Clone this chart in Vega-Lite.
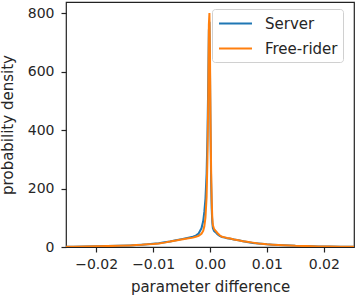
{
  "$schema": "https://vega.github.io/schema/vega-lite/v6.json",
  "width": 288,
  "height": 245,
  "autosize": {"type": "none"},
  "padding": {"left": 66, "top": 2, "right": 2, "bottom": 49},
  "background": "white",
  "config": {
    "font": "DejaVu Sans",
    "view": {"stroke": "#222", "strokeWidth": 1.2},
    "axis": {
      "domain": false,
      "grid": false,
      "tickColor": "#222",
      "tickWidth": 1.2,
      "tickSize": 5,
      "labelColor": "#262626",
      "labelFont": "DejaVu Sans",
      "labelFontSize": 14,
      "titleColor": "#262626",
      "titleFont": "DejaVu Sans",
      "titleFontSize": 15,
      "titleFontWeight": "normal"
    }
  },
  "data": {
    "values": [
      {"x": -0.0253, "y": 0.8, "s": "Server"},
      {"x": -0.024, "y": 1, "s": "Server"},
      {"x": -0.022, "y": 1.5, "s": "Server"},
      {"x": -0.020, "y": 2.2, "s": "Server"},
      {"x": -0.018, "y": 3, "s": "Server"},
      {"x": -0.016, "y": 4, "s": "Server"},
      {"x": -0.014, "y": 5.5, "s": "Server"},
      {"x": -0.013, "y": 6.5, "s": "Server"},
      {"x": -0.012, "y": 8, "s": "Server"},
      {"x": -0.011, "y": 9, "s": "Server"},
      {"x": -0.010, "y": 11, "s": "Server"},
      {"x": -0.009, "y": 13, "s": "Server"},
      {"x": -0.008, "y": 16, "s": "Server"},
      {"x": -0.007, "y": 19, "s": "Server"},
      {"x": -0.006, "y": 23, "s": "Server"},
      {"x": -0.005, "y": 27, "s": "Server"},
      {"x": -0.004, "y": 31, "s": "Server"},
      {"x": -0.003, "y": 35, "s": "Server"},
      {"x": -0.0025, "y": 39, "s": "Server"},
      {"x": -0.002, "y": 46, "s": "Server"},
      {"x": -0.0015, "y": 64, "s": "Server"},
      {"x": -0.0012, "y": 88, "s": "Server"},
      {"x": -0.0010, "y": 120, "s": "Server"},
      {"x": -0.0008, "y": 165, "s": "Server"},
      {"x": -0.0006, "y": 250, "s": "Server"},
      {"x": -0.00045, "y": 380, "s": "Server"},
      {"x": -0.0003, "y": 580, "s": "Server"},
      {"x": -0.0002, "y": 740, "s": "Server"},
      {"x": -0.0001, "y": 770, "s": "Server"},
      {"x": 0.0, "y": 600, "s": "Server"},
      {"x": 0.0001, "y": 380, "s": "Server"},
      {"x": 0.0002, "y": 220, "s": "Server"},
      {"x": 0.0003, "y": 130, "s": "Server"},
      {"x": 0.0004, "y": 85, "s": "Server"},
      {"x": 0.0005, "y": 65, "s": "Server"},
      {"x": 0.0007, "y": 55, "s": "Server"},
      {"x": 0.0010, "y": 50, "s": "Server"},
      {"x": 0.0013, "y": 44, "s": "Server"},
      {"x": 0.0017, "y": 38, "s": "Server"},
      {"x": 0.0021, "y": 34, "s": "Server"},
      {"x": 0.0026, "y": 32, "s": "Server"},
      {"x": 0.0030, "y": 30, "s": "Server"},
      {"x": 0.0036, "y": 28, "s": "Server"},
      {"x": 0.0042, "y": 26, "s": "Server"},
      {"x": 0.0050, "y": 23, "s": "Server"},
      {"x": 0.0058, "y": 20, "s": "Server"},
      {"x": 0.0065, "y": 17, "s": "Server"},
      {"x": 0.0075, "y": 14, "s": "Server"},
      {"x": 0.0085, "y": 12, "s": "Server"},
      {"x": 0.0100, "y": 9, "s": "Server"},
      {"x": 0.0110, "y": 8, "s": "Server"},
      {"x": 0.0120, "y": 7, "s": "Server"},
      {"x": 0.0130, "y": 6, "s": "Server"},
      {"x": 0.0150, "y": 4, "s": "Server"},
      {"x": 0.0170, "y": 3, "s": "Server"},
      {"x": 0.0190, "y": 2, "s": "Server"},
      {"x": 0.0210, "y": 1.5, "s": "Server"},
      {"x": 0.0230, "y": 1, "s": "Server"},
      {"x": 0.0253, "y": 0.7, "s": "Server"},
      {"x": -0.0253, "y": 0.8, "s": "Free-rider"},
      {"x": -0.024, "y": 1, "s": "Free-rider"},
      {"x": -0.022, "y": 1.5, "s": "Free-rider"},
      {"x": -0.020, "y": 2.5, "s": "Free-rider"},
      {"x": -0.018, "y": 3, "s": "Free-rider"},
      {"x": -0.016, "y": 4, "s": "Free-rider"},
      {"x": -0.014, "y": 5.5, "s": "Free-rider"},
      {"x": -0.013, "y": 6.5, "s": "Free-rider"},
      {"x": -0.012, "y": 7.5, "s": "Free-rider"},
      {"x": -0.011, "y": 9, "s": "Free-rider"},
      {"x": -0.010, "y": 10, "s": "Free-rider"},
      {"x": -0.009, "y": 12, "s": "Free-rider"},
      {"x": -0.008, "y": 15, "s": "Free-rider"},
      {"x": -0.007, "y": 19, "s": "Free-rider"},
      {"x": -0.006, "y": 22, "s": "Free-rider"},
      {"x": -0.005, "y": 26, "s": "Free-rider"},
      {"x": -0.004, "y": 29, "s": "Free-rider"},
      {"x": -0.003, "y": 32, "s": "Free-rider"},
      {"x": -0.0025, "y": 35, "s": "Free-rider"},
      {"x": -0.002, "y": 38, "s": "Free-rider"},
      {"x": -0.0015, "y": 45, "s": "Free-rider"},
      {"x": -0.0012, "y": 55, "s": "Free-rider"},
      {"x": -0.0010, "y": 70, "s": "Free-rider"},
      {"x": -0.0008, "y": 100, "s": "Free-rider"},
      {"x": -0.0006, "y": 170, "s": "Free-rider"},
      {"x": -0.00045, "y": 300, "s": "Free-rider"},
      {"x": -0.0003, "y": 520, "s": "Free-rider"},
      {"x": -0.0002, "y": 760, "s": "Free-rider"},
      {"x": -0.0001, "y": 800, "s": "Free-rider"},
      {"x": 0.0, "y": 650, "s": "Free-rider"},
      {"x": 0.0001, "y": 420, "s": "Free-rider"},
      {"x": 0.0002, "y": 260, "s": "Free-rider"},
      {"x": 0.0003, "y": 160, "s": "Free-rider"},
      {"x": 0.0004, "y": 100, "s": "Free-rider"},
      {"x": 0.0005, "y": 75, "s": "Free-rider"},
      {"x": 0.0007, "y": 62, "s": "Free-rider"},
      {"x": 0.0010, "y": 55, "s": "Free-rider"},
      {"x": 0.0013, "y": 48, "s": "Free-rider"},
      {"x": 0.0017, "y": 40, "s": "Free-rider"},
      {"x": 0.0021, "y": 35, "s": "Free-rider"},
      {"x": 0.0026, "y": 33, "s": "Free-rider"},
      {"x": 0.0030, "y": 31, "s": "Free-rider"},
      {"x": 0.0036, "y": 29, "s": "Free-rider"},
      {"x": 0.0042, "y": 26, "s": "Free-rider"},
      {"x": 0.0050, "y": 23, "s": "Free-rider"},
      {"x": 0.0058, "y": 20, "s": "Free-rider"},
      {"x": 0.0065, "y": 18, "s": "Free-rider"},
      {"x": 0.0075, "y": 15, "s": "Free-rider"},
      {"x": 0.0085, "y": 12, "s": "Free-rider"},
      {"x": 0.0100, "y": 9, "s": "Free-rider"},
      {"x": 0.0110, "y": 8, "s": "Free-rider"},
      {"x": 0.0120, "y": 7, "s": "Free-rider"},
      {"x": 0.0130, "y": 6, "s": "Free-rider"},
      {"x": 0.0150, "y": 4, "s": "Free-rider"},
      {"x": 0.0170, "y": 3, "s": "Free-rider"},
      {"x": 0.0190, "y": 2, "s": "Free-rider"},
      {"x": 0.0210, "y": 1.5, "s": "Free-rider"},
      {"x": 0.0230, "y": 1, "s": "Free-rider"},
      {"x": 0.0253, "y": 0.7, "s": "Free-rider"}
    ]
  },
  "mark": {"type": "line", "strokeWidth": 2, "clip": true},
  "encoding": {
    "x": {
      "field": "x",
      "type": "quantitative",
      "scale": {"domain": [-0.0253, 0.0253], "nice": false, "zero": false},
      "axis": {
        "title": "parameter difference",
        "values": [-0.02, -0.01, 0, 0.01, 0.02],
        "labelExpr": "replace(format(datum.value, '.2f'), '-', '−')",
        "labelPadding": 5,
        "titleBaseline": "alphabetic",
        "titleY": 44.5
      }
    },
    "y": {
      "field": "y",
      "type": "quantitative",
      "scale": {"domain": [0, 838], "nice": false},
      "axis": {
        "title": "probability density",
        "values": [0, 200, 400, 600, 800],
        "labelPadding": 7,
        "titleBaseline": "alphabetic",
        "titleX": -54
      }
    },
    "color": {
      "field": "s",
      "type": "nominal",
      "sort": ["Server", "Free-rider"],
      "scale": {"domain": ["Server", "Free-rider"], "range": ["#1f77b4", "#ff7f0e"]},
      "legend": {
        "title": null,
        "orient": "none",
        "legendX": 146,
        "legendY": 7,
        "symbolType": "M-2,0L2,0",
        "symbolSize": 272,
        "symbolStrokeWidth": 2,
        "symbolOffset": 9,
        "labelFont": "DejaVu Sans",
        "labelFontSize": 15,
        "labelColor": "#262626",
        "labelOffset": 20,
        "rowPadding": 7,
        "padding": 5,
        "fillColor": "rgba(255,255,255,0.8)",
        "strokeColor": "#d0d0d0",
        "cornerRadius": 3
      }
    }
  }
}
